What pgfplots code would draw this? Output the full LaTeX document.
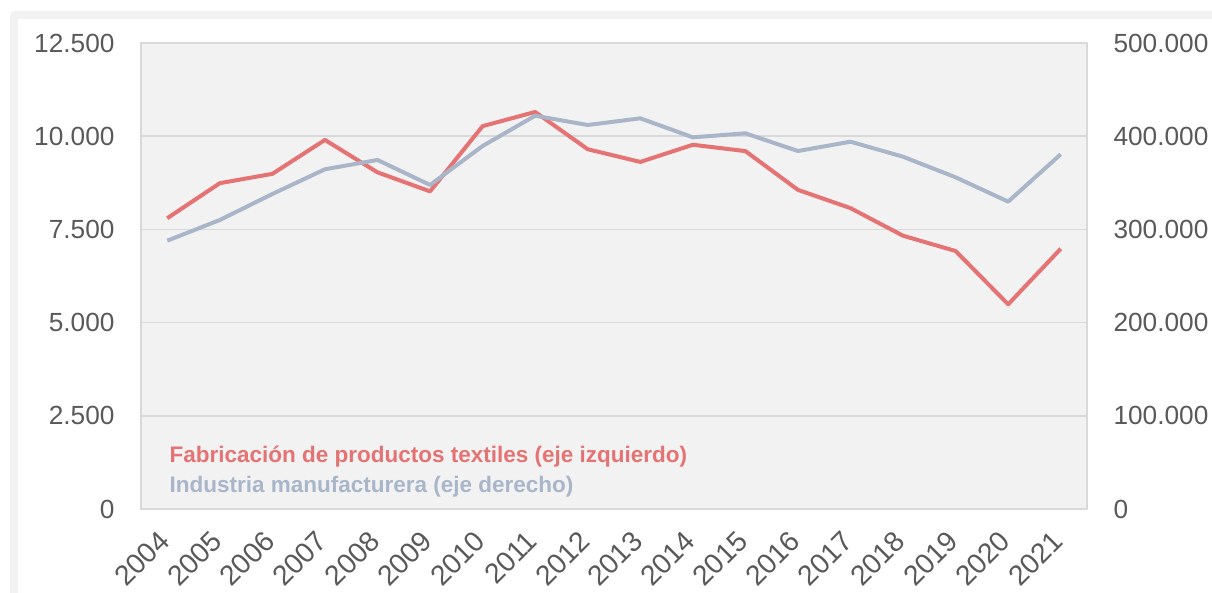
\documentclass[border=0pt]{standalone}
\usepackage{pgfplots}
\pgfplotsset{compat=1.18}
\usepackage{fontspec}
\setmainfont{Liberation Sans}
\definecolor{cred}{HTML}{E57373}
\definecolor{cblue}{HTML}{A9B6CA}
\definecolor{ctxt}{HTML}{595959}
\definecolor{cgrid}{HTML}{D9D9D9}
\definecolor{cbg}{HTML}{F2F2F2}
\begin{document}
\begin{tikzpicture}
\fill[white] (0pt,0pt) rectangle (484.8pt,-237.2pt);
\fill[cbg, rounded corners=2pt] (4pt,-4.4pt) rectangle (496pt,-248pt);
\fill[white] (7.2pt,-7.6pt) rectangle (496pt,-248pt);
\begin{axis}[
  at={(56.4pt,-203.6pt)}, anchor=south west, scale only axis,
  width=378.4pt, height=186.4pt,
  xmin=-0.5, xmax=17.5, ymin=0, ymax=12500,
  scaled y ticks=false,
  xtick={0,...,17},
  xticklabels={2004,2005,2006,2007,2008,2009,2010,2011,2012,2013,2014,2015,2016,2017,2018,2019,2020,2021},
  ytick={0,2500,5000,7500,10000,12500},
  yticklabels={0,2.500,5.000,7.500,10.000,12.500},
  axis background/.style={fill=cbg},
  axis line style={cgrid, line width=0.6pt},
  ymajorgrids, grid style={cgrid, line width=0.6pt},
  major tick length=0pt,
  tick label style={font=\fontsize{10.5}{12}\selectfont, text=ctxt, inner sep=0pt},
  yticklabel style={xshift=-10.4pt},
  xticklabel style={font=\fontsize{11.3}{12}\selectfont, rotate=45, anchor=east, xshift=-8.3pt, yshift=-6.8pt},
]
\addplot[cred, line width=1.6pt, line join=round] coordinates {
(0,7800) (1,8740) (2,8990) (3,9900) (4,9030) (5,8520) (6,10270) (7,10650) (8,9650)
(9,9310) (10,9770) (11,9600) (12,8560) (13,8070) (14,7330) (15,6920) (16,5490) (17,6980)};
\end{axis}
\begin{axis}[
  at={(56.4pt,-203.6pt)}, anchor=south west, scale only axis,
  width=378.4pt, height=186.4pt,
  xmin=-0.5, xmax=17.5, ymin=0, ymax=500000,
  scaled y ticks=false,
  hide x axis,
  axis y line*=right,
  axis line style={cgrid, line width=0.6pt},
  ytick={0,100000,200000,300000,400000,500000},
  yticklabels={0,100.000,200.000,300.000,400.000,500.000},
  major tick length=0pt,
  tick label style={font=\fontsize{10.5}{12}\selectfont, text=ctxt, inner sep=0pt},
  yticklabel style={xshift=10.4pt},
]
\addplot[cblue, line width=1.6pt, line join=round] coordinates {
(0,287900) (1,310100) (2,338000) (3,364500) (4,374500) (5,347700) (6,389500) (7,422000) (8,412000)
(9,419200) (10,398800) (11,403100) (12,384100) (13,394100) (14,378000) (15,355900) (16,329800) (17,380600)};
\end{axis}
\node[anchor=base west, inner sep=0pt, text=cred, font=\bfseries\fontsize{9}{11}\selectfont] at (67.6pt,-185.2pt) {Fabricación de productos textiles (eje izquierdo)};
\node[anchor=base west, inner sep=0pt, text=cblue, font=\bfseries\fontsize{9}{11}\selectfont] at (67.6pt,-197.2pt) {Industria manufacturera (eje derecho)};
\pgfresetboundingbox
\path[use as bounding box] (0pt,0pt) rectangle (484.8pt,-237.2pt);
\end{tikzpicture}
\end{document}
